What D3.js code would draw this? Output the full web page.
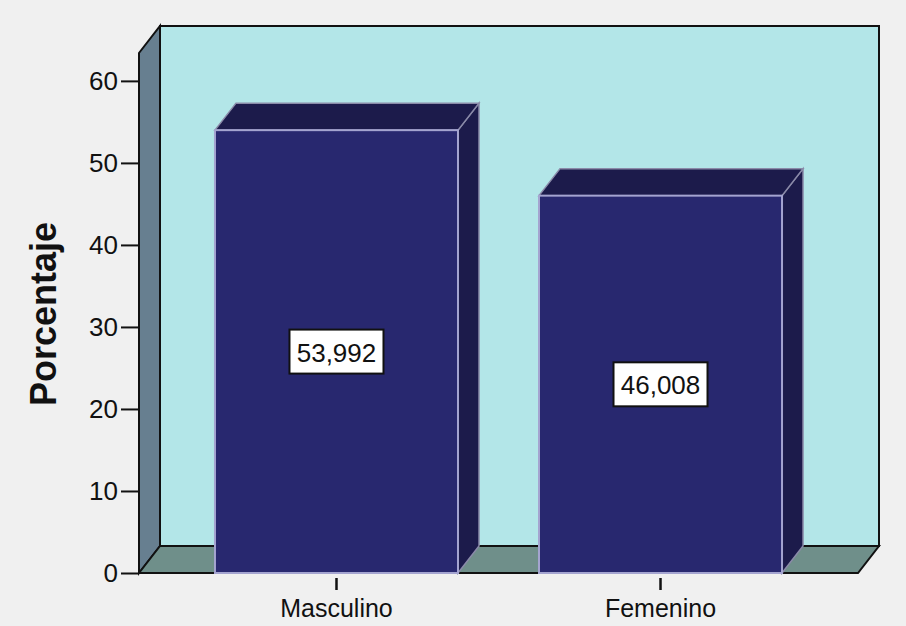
<!DOCTYPE html>
<html>
<head>
<meta charset="utf-8">
<script src="https://cdn.jsdelivr.net/npm/d3@7"></script>
<style>
  html, body { margin: 0; padding: 0; background: #f0f0f0; }
  svg { display: block; font-family: "Liberation Sans", Arial, sans-serif; }
</style>
</head>
<body>
<svg id="chart"></svg>
<script>
// chart data
const categories = ["Masculino", "Femenino"];
const values = [53.992, 46.008];
const valueLabels = ["53,992", "46,008"];
const yTicks = [0, 10, 20, 30, 40, 50, 60];

const width = 906;
const height = 626;
// front plane of the 3D box
const plotLeft = 139, plotRight = 858, plotBottom = 573, plotTop = 53;
// depth offset of the 3D effect
const dx = 21, dy = -27;

const svg = d3.select("#chart")
  .attr("width", width)
  .attr("height", height);

const x = d3.scaleBand()
  .domain(categories)
  .range([plotLeft, plotRight])
  .paddingInner(0.25)
  .paddingOuter(0.2345);

const y = d3.scaleLinear()
  .domain([0, 63.4])
  .range([plotBottom, plotTop]);

const poly = pts => pts.map(p => p.join(",")).join(" ");

// back wall
svg.append("polygon")
  .attr("points", poly([[plotLeft + dx, plotTop + dy], [plotRight + dx, plotTop + dy], [plotRight + dx, plotBottom + dy], [plotLeft + dx, plotBottom + dy]]))
  .attr("fill", "#b3e6e8")
  .attr("stroke", "#111")
  .attr("stroke-width", 2);

// left wall
svg.append("polygon")
  .attr("points", poly([[plotLeft, plotTop], [plotLeft + dx, plotTop + dy], [plotLeft + dx, plotBottom + dy], [plotLeft, plotBottom]]))
  .attr("fill", "#677f90")
  .attr("stroke", "#111")
  .attr("stroke-width", 2);

// floor
svg.append("polygon")
  .attr("points", poly([[plotLeft, plotBottom], [plotLeft + dx, plotBottom + dy], [plotRight + dx, plotBottom + dy], [plotRight, plotBottom]]))
  .attr("fill", "#6f8f8a")
  .attr("stroke", "#111")
  .attr("stroke-width", 2);

// bars
const bars = svg.selectAll(".bar")
  .data(categories.map((c, i) => ({ c, v: values[i], label: valueLabels[i] })))
  .enter()
  .append("g")
  .attr("class", "bar");

// right side face
bars.append("polygon")
  .attr("points", d => {
    const x1 = x(d.c) + x.bandwidth(), yt = y(d.v);
    return poly([[x1, yt], [x1 + dx, yt + dy], [x1 + dx, plotBottom + dy], [x1, plotBottom]]);
  })
  .attr("fill", "#1c1b4b")
  .attr("stroke", "#8a8aa8")
  .attr("stroke-width", 1.5);

// top face
bars.append("polygon")
  .attr("points", d => {
    const x0 = x(d.c), x1 = x0 + x.bandwidth(), yt = y(d.v);
    return poly([[x0, yt], [x0 + dx, yt + dy], [x1 + dx, yt + dy], [x1, yt]]);
  })
  .attr("fill", "#1c1b4b")
  .attr("stroke", "#8a8aa8")
  .attr("stroke-width", 1.5);

// front face
bars.append("rect")
  .attr("x", d => x(d.c))
  .attr("y", d => y(d.v))
  .attr("width", x.bandwidth())
  .attr("height", d => plotBottom - y(d.v))
  .attr("fill", "#28286f")
  .attr("stroke", "#a4a4d0")
  .attr("stroke-width", 2);

// value labels in white boxes
const boxW = 94, boxH = 44;
bars.append("rect")
  .attr("x", d => x(d.c) + x.bandwidth() / 2 - boxW / 2)
  .attr("y", d => (y(d.v) + plotBottom) / 2 - boxH / 2)
  .attr("width", boxW)
  .attr("height", boxH)
  .attr("fill", "#ffffff")
  .attr("stroke", "#111")
  .attr("stroke-width", 2);

bars.append("text")
  .attr("x", d => x(d.c) + x.bandwidth() / 2)
  .attr("y", d => (y(d.v) + plotBottom) / 2 + 10)
  .attr("text-anchor", "middle")
  .attr("font-size", 26)
  .attr("fill", "#111")
  .text(d => d.label);

// y axis
const yAxis = svg.append("g")
  .attr("transform", `translate(${plotLeft},0)`)
  .call(d3.axisLeft(y).tickValues(yTicks).tickSize(18).tickPadding(3));
yAxis.select(".domain").attr("stroke", "#111").attr("stroke-width", 2)
  .attr("d", `M0,${plotTop}V${plotBottom}`);
yAxis.selectAll(".tick line").attr("stroke", "#111").attr("stroke-width", 2);
yAxis.selectAll(".tick text")
  .attr("font-size", 26)
  .attr("font-family", "Liberation Sans, Arial, sans-serif")
  .attr("fill", "#111");

// x axis
const xAxis = svg.append("g")
  .attr("transform", `translate(0,${plotBottom + 5})`)
  .call(d3.axisBottom(x).tickSize(12).tickPadding(9));
xAxis.select(".domain").remove();
xAxis.selectAll(".tick line").attr("stroke", "#111").attr("stroke-width", 2.5);
xAxis.selectAll(".tick text")
  .attr("font-size", 25)
  .attr("font-family", "Liberation Sans, Arial, sans-serif")
  .attr("fill", "#111");

// y axis title
svg.append("text")
  .attr("transform", "translate(56,314) rotate(-90)")
  .attr("text-anchor", "middle")
  .attr("font-size", 36)
  .attr("font-weight", "bold")
  .attr("fill", "#111")
  .text("Porcentaje");
</script>
</body>
</html>
